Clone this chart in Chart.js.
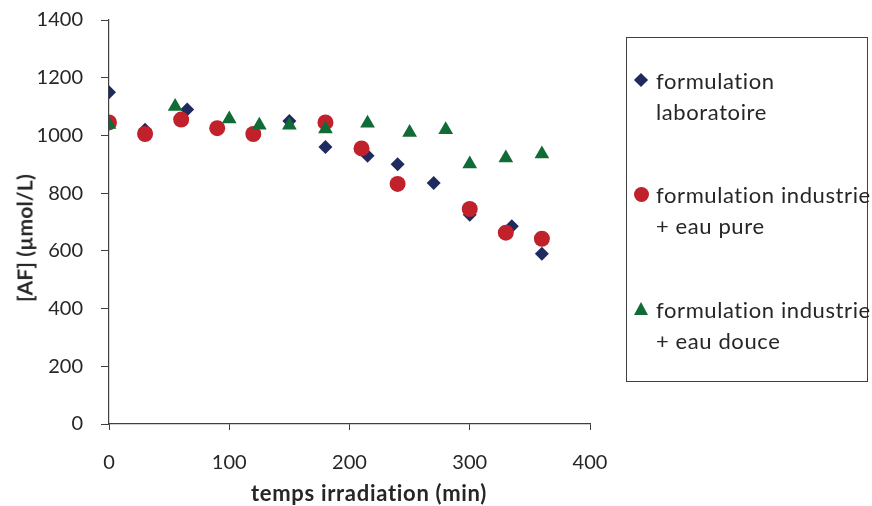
<!DOCTYPE html>
<html>
<head>
<meta charset="utf-8">
<script src="https://cdn.jsdelivr.net/npm/chart.js@4/dist/chart.umd.min.js"></script>
<style>
  html, body { margin: 0; padding: 0; background: #fff; }
  #wrap { position: relative; width: 872px; height: 506px; font-family: Lato, "Open Sans", sans-serif; color: #262626; }
  canvas { position: absolute; left: 0; top: 0; }
  .ttl { position: absolute; font-weight: bold; white-space: nowrap; color: #262626; }
  #legend { position: absolute; left: 626px; top: 37px; width: 240px; height: 343px; border: 1.5px solid #404040; }
  .entry { position: absolute; left: 0; }
  .etext { position: absolute; left: 29px; font-size: 22px; letter-spacing: 0.6px; line-height: 31px; white-space: nowrap; }
  .mk { position: absolute; }
</style>
</head>
<body>
<div id="wrap">
  <canvas id="c" width="872" height="506"></canvas>
  <div class="ttl" id="xt"></div>
  <div class="ttl" id="yt"></div>
  <div id="legend"></div>
</div>
<script>
// ---- data ----
const seriesNames = [
  ["formulation", "laboratoire"],
  ["formulation industrie", "+ eau pure"],
  ["formulation industrie", "+ eau douce"]
];
const labX = [0, 30, 65, 150, 180, 215, 240, 270, 300, 335, 360];
const labY = [1150, 1020, 1090, 1050, 960, 930, 900, 835, 725, 685, 590];
const pureX = [0, 30, 60, 90, 120, 180, 210, 240, 300, 330, 360];
const pureY = [1045, 1005, 1055, 1025, 1005, 1045, 955, 832, 745, 663, 642];
const douceX = [0, 55, 100, 125, 150, 180, 215, 250, 280, 300, 330, 360];
const douceY = [1038, 1100, 1057, 1035, 1035, 1022, 1042, 1010, 1020, 901, 922, 936];
const xTicks = [0, 100, 200, 300, 400];
const yTicks = [0, 200, 400, 600, 800, 1000, 1200, 1400];
const xTitle = "temps irradiation (min)";
const yTitle = "[AF] (µmol/L)";

const colors = ["#1f2a5f", "#c0212a", "#106b36"];
const shapes = ["rectRot", "circle", "triangle"];
const radii = [7, 8, 8.5];

function pts(xs, ys) { return xs.map((x, i) => ({ x: x, y: ys[i] })); }

const datasets = [
  { label: seriesNames[0].join(" "), data: pts(labX, labY), order: 3 },
  { label: seriesNames[1].join(" "), data: pts(pureX, pureY), order: 2 },
  { label: seriesNames[2].join(" "), data: pts(douceX, douceY), order: 1 }
].map((d, i) => Object.assign(d, {
  pointStyle: shapes[i], pointRadius: radii[i], pointHoverRadius: radii[i],
  backgroundColor: colors[i], borderColor: colors[i], borderWidth: 0, showLine: false
}));

const axisColor = "#404040";
const tickFont = { family: "Lato, 'Open Sans', sans-serif", size: 20 };

new Chart(document.getElementById("c"), {
  type: "scatter",
  data: { datasets: datasets },
  options: {
    responsive: false,
    animation: false,
    devicePixelRatio: 1,
    layout: { padding: { left: 0, right: 282, top: 20, bottom: 0 } },
    plugins: { legend: { display: false }, tooltip: { enabled: false } },
    scales: {
      x: {
        type: "linear", min: xTicks[0], max: xTicks[xTicks.length - 1],
        afterBuildTicks: s => { s.ticks = xTicks.map(v => ({ value: v })); },
        afterFit: s => { s.height = 82; s.paddingLeft = 0; s.paddingRight = 0; },
        grid: { drawOnChartArea: false, drawTicks: true, tickLength: 6, tickColor: axisColor, tickWidth: 1 },
        border: { display: true, color: axisColor, width: 1.2 },
        ticks: { font: tickFont, color: "#262626", padding: 21, maxRotation: 0, callback: v => String(v) }
      },
      y: {
        type: "linear", min: yTicks[0], max: yTicks[yTicks.length - 1],
        afterBuildTicks: s => { s.ticks = yTicks.map(v => ({ value: v })); },
        afterFit: s => { s.width = 109; s.paddingTop = 0; s.paddingBottom = 0; },
        grid: { drawOnChartArea: false, drawTicks: true, tickLength: 8, tickColor: axisColor, tickWidth: 1 },
        border: { display: true, color: axisColor, width: 1.2 },
        ticks: { font: tickFont, color: "#262626", padding: 18, callback: v => String(v) }
      }
    }
  }
});

// axis titles
const xt = document.getElementById("xt");
xt.textContent = xTitle;
xt.style.cssText = "left:369px;top:492px;font-size:22px;letter-spacing:0.7px;transform:translate(-50%,-50%)";
const yt = document.getElementById("yt");
yt.textContent = yTitle;
yt.style.cssText = "left:24px;top:238px;font-size:21px;letter-spacing:0.2px;transform:translate(-50%,-50%) rotate(-90deg)";

// legend
const legend = document.getElementById("legend");
const entryTops = [26, 140, 255]; // first-line centre offsets relative to box
seriesNames.forEach((lines, i) => {
  const e = document.createElement("div");
  e.className = "entry";
  e.style.top = (entryTops[i] + 16) + "px";
  const mk = document.createElement("div");
  mk.className = "mk";
  if (shapes[i] === "rectRot") {
    mk.style.cssText = "left:9px;top:-5px;width:10px;height:10px;transform:rotate(45deg);background:" + colors[i];
  } else if (shapes[i] === "circle") {
    mk.style.cssText = "left:6.5px;top:-7.5px;width:15px;height:15px;border-radius:50%;background:" + colors[i];
  } else {
    mk.style.cssText = "left:6.5px;top:-7px;width:0;height:0;border-left:7.5px solid transparent;border-right:7.5px solid transparent;border-bottom:13px solid " + colors[i];
  }
  e.appendChild(mk);
  const t = document.createElement("div");
  t.className = "etext";
  t.style.top = "-15.5px";
  t.innerHTML = lines.map(s => s.replace(/&/g, "&amp;").replace(/</g, "&lt;")).join("<br>");
  e.appendChild(t);
  legend.appendChild(e);
});
</script>
</body>
</html>
